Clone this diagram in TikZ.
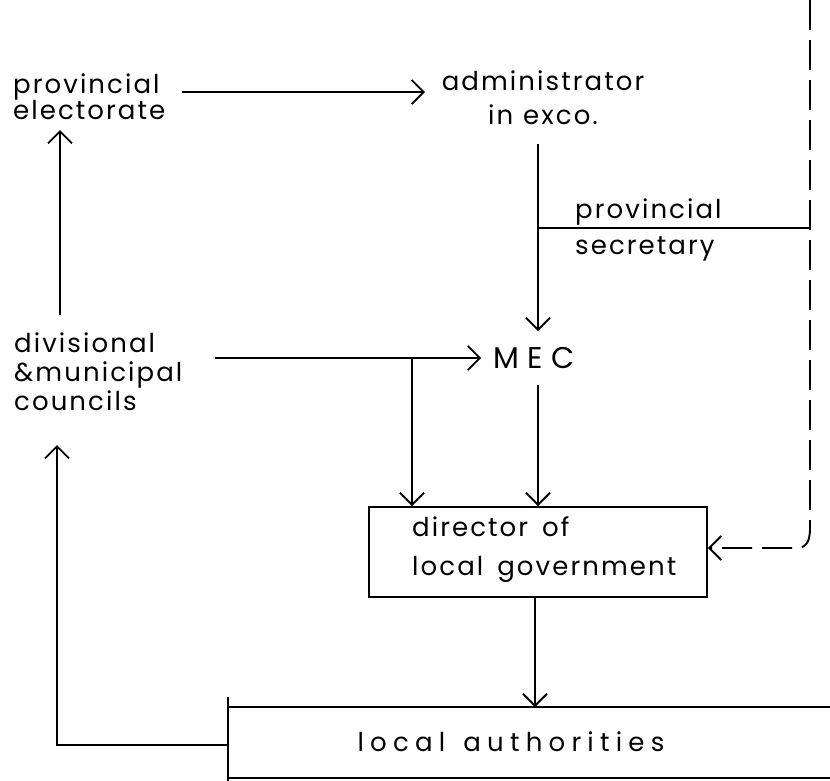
\documentclass[tikz,border=0pt]{standalone}
\usepackage{fontspec}
\newfontfamily\lettering[LetterSpace=8]{Poppins}
\usetikzlibrary{arrows.meta}
\tikzset{
  txt/.style={font=\lettering\fontsize{26}{26}\selectfont, inner sep=0pt, align=left, anchor=west},
  link/.style={line width=1.9pt},
  flow/.style={link, -{Straight Barb[length=12pt,width=24pt,line width=1.9pt]}},
  tie/.style={link, dash pattern=on 30pt off 10pt, -{Straight Barb[length=12pt,width=24pt,line width=1.9pt]}},
  frame/.style={draw, line width=1.9pt, inner sep=0pt},
}
\begin{document}
\begin{tikzpicture}[x=1pt,y=-1pt]
\useasboundingbox (0,0) rectangle (830,780);

% text blocks
\node[txt] (pe) at (13,97) {provincial\\electorate};
\node[txt, align=center, anchor=center, font=\lettering\fontsize{26}{34}\selectfont] (admin) at (543,98) {administrator\\in\hspace{10pt}exco.};
\node[txt, font=\lettering\fontsize{26}{36}\selectfont] (ps) at (575,230) {provincial\\secretary};
\node[txt, font=\lettering\fontsize{26}{29}\selectfont] (dmc) at (14,372) {divisional\\\&municipal\\councils};
\node[txt, anchor=center, font=\lettering\addfontfeature{LetterSpace=28}\fontsize{30}{30}\selectfont] (mec) at (534,358) {MEC};

% director box and its text
\node[frame, minimum width=338pt, minimum height=90pt] (dlg) at (538,552) {};
\node[txt, font=\lettering\fontsize{26}{39}\selectfont] (dlgtext) at (412,550) {director\hspace{14pt}of\\local\hspace{14pt}government};

% local authorities band, open on the right
\coordinate (latop) at (228,707);
\coordinate (labot) at (228,778);
\coordinate (laleft) at (228,745);
\draw[link] (228,697) -- (228,782);
\draw[link] (latop) -- (830,707);
\draw[link] (labot) -- (830,778);
\node[txt, anchor=center, font=\lettering\addfontfeature{LetterSpace=24}\fontsize{26}{28}\selectfont] (la) at (511,742) {local\hspace{18pt}authorities};

% connector end points
\coordinate (pefoot) at (60,130);
\coordinate (dmctop) at (60,315);
\coordinate (pearrow) at (182,92);
\coordinate (pehead) at (425,92);
\coordinate (dmcarrow) at (215,358);
\coordinate (dmcfoot) at (57,445);
\coordinate (adminfoot) at (538,144);
\coordinate (psjoin) at (538,228);
\coordinate (rail) at (810,228);
\coordinate (railtop) at (810,0);
\coordinate (branch) at (412,358);

% connectors
\draw[flow] (dmctop) -- (pefoot);
\draw[flow] (pearrow) -- (pehead);
\draw[flow] (adminfoot) -- ([yshift=16pt]mec.north -| adminfoot);
\draw[link] (psjoin) -- (rail);
\draw[flow] (dmcarrow) -- ([xshift=-12pt]mec.west);
\draw[flow] (branch) -- (branch |- dlg.north);
\draw[flow] ([yshift=-16pt]mec.south -| adminfoot) -- (adminfoot |- dlg.north);
\draw[flow] (dlg.south -| 535,0) -- (535,0 |- latop);
\draw[flow] (laleft) -| (dmcfoot);
\draw[tie] (railtop) -- (810,528) .. controls (810,544) and (805,548) .. (795,548) -- (dlg.east |- 0,548);
\end{tikzpicture}
\end{document}
